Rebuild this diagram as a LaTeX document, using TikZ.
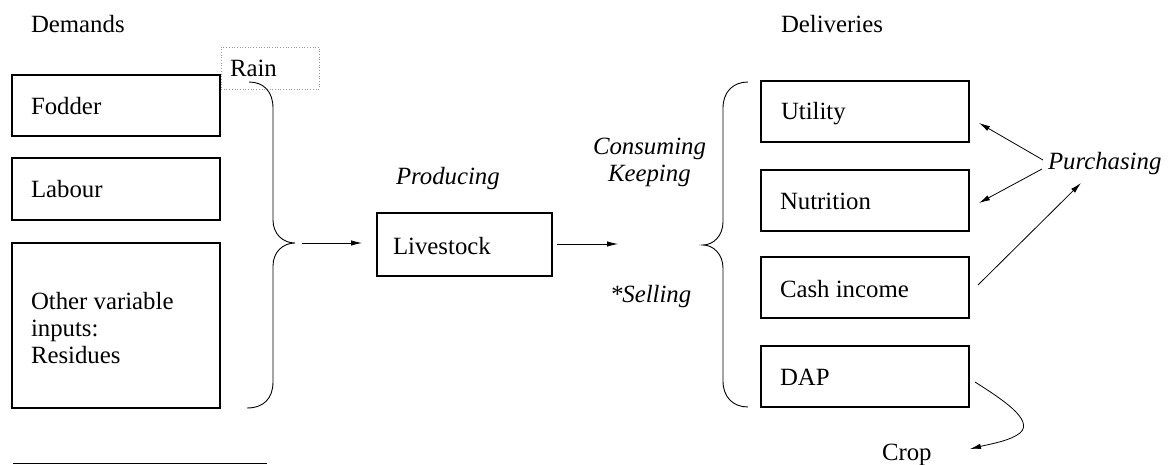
\documentclass[tikz,border=0pt]{standalone}
\usepackage{fontspec}
\setmainfont{Liberation Serif}
\usetikzlibrary{arrows.meta}
\begin{document}
\begin{tikzpicture}[x=1pt,y=-1pt,
  every node/.style={inner sep=0pt,outer sep=0pt,font=\fontsize{24.8}{28}\selectfont},
  txt/.style={anchor=base west},
  itxt/.style={anchor=base west,font=\fontsize{24.8}{28}\selectfont\itshape},
  box/.style={draw,line width=1.1pt,anchor=north west},
  arr/.style={line width=0.8pt,-{Latex[length=11pt,width=5.5pt]}},
  bracepath/.style={line width=0.9pt}]
\useasboundingbox (0,0) rectangle (1171,465);
% left column
\node[txt] (demands) at (31,33) {Demands};
\node[box,minimum width=208,minimum height=61] (fodder) at (12,75) {};
\node[box,minimum width=208,minimum height=62] (labour) at (12,158) {};
\node[box,minimum width=208,minimum height=165] (other) at (12,243) {};
\node[txt] (tfodder) at (31,115) {Fodder};
\node[txt] (tlabour) at (31,198) {Labour};
\node[txt] (tother1) at (31,310) {Other variable};
\node[txt] (tother2) at (31,337) {inputs:};
\node[txt] (tother3) at (31,363) {Residues};
\node[draw=gray!80,dotted,line width=0.7pt,anchor=north west,minimum width=98,minimum height=42] (rainbox) at (221,47) {};
\node[txt] (rain) at (230,77) {Rain};
% left brace
\draw[bracepath] (249,82) .. controls (264,82) and (273,92) .. (273,108) -- (273,220)
  .. controls (273,234) and (283,243) .. (295,243)
  .. controls (283,243) and (273,252) .. (273,266) -- (273,382)
  .. controls (273,398) and (264,408) .. (247,408);
\coordinate (lbtip) at (295,243);
% middle
\node[box,minimum width=175,minimum height=63] (livestock) at (377,213) {};
\node[txt] (tlive) at (393,255) {Livestock};
\node[itxt] (producing) at (396,185) {Producing};
\draw[arr,shorten <=7pt,shorten >=15pt] (lbtip) -- (livestock.west |- lbtip);
\coordinate (midend) at (618,244);
\draw[arr,shorten <=5pt] (livestock.east |- midend) -- (midend);
\node[itxt] (consuming) at (593,155) {Consuming};
\node[itxt] (keeping) at (608,182) {Keeping};
\node[itxt] (selling) at (610,302) {*Selling};
% right brace
\draw[bracepath] (748,82) .. controls (733,82) and (723,92) .. (723,108) -- (723,222)
  .. controls (723,236) and (713,245) .. (703,245)
  .. controls (713,245) and (723,254) .. (723,268) -- (723,381)
  .. controls (723,397) and (733,407) .. (748,407);
% right column
\node[txt] (deliveries) at (781,33) {Deliveries};
\node[box,minimum width=208,minimum height=61] (utility) at (761,81) {};
\node[box,minimum width=208,minimum height=61] (nutrition) at (761,170) {};
\node[box,minimum width=208,minimum height=61] (cash) at (761,257) {};
\node[box,minimum width=208,minimum height=61] (dap) at (761,346) {};
\node[txt] (tutil) at (781,120) {Utility};
\node[txt] (tnutr) at (780,210) {Nutrition};
\node[txt] (tcash) at (780,298) {Cash income};
\node[txt] (tdap) at (780,385) {DAP};
\node[itxt] (purch) at (1048,170) {Purchasing};
\node[txt] (crop) at (882,460) {Crop};
% purchasing arrows
\draw[arr] ([shift={(-5,-10)}]purch.base west) -- ([shift={(10,11.5)}]utility.east);
\draw[arr] ([shift={(-6,-1)}]purch.base west) -- ([shift={(10,2.5)}]nutrition.east);
\draw[arr] ([shift={(9,-2.5)}]cash.east) -- ([shift={(33,13)}]purch.base west);
% DAP to crop
\draw[arr] ([shift={(6,5.5)}]dap.east) .. controls (1000,398) and (1035,420) .. (1020,433)
  .. controls (1010,441) and (990,444) .. ([shift={(88,-11)}]crop.base west);
% footnote rule
\draw[line width=1pt] (13,463) -- (267,463);
\end{tikzpicture}
\end{document}
